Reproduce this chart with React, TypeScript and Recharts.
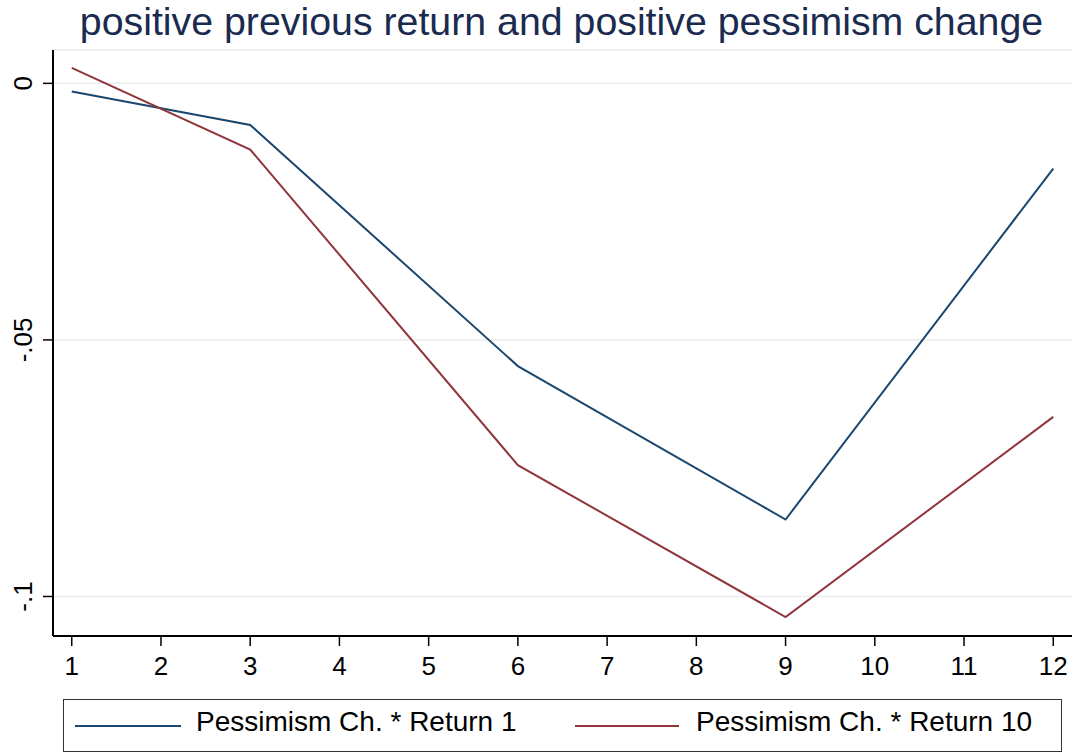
import React from 'react';
import { LineChart, Line, XAxis, YAxis, CartesianGrid } from 'recharts';

const horizons = [1, 3, 6, 9, 12];
const return1 = [-0.0016, -0.0081, -0.0551, -0.085, -0.0166];
const return10 = [0.003, -0.0129, -0.0744, -0.104, -0.065];
const xTicks = [1, 2, 3, 4, 5, 6, 7, 8, 9, 10, 11, 12];
const yTicks = [0, -0.05, -0.1];
const yTickLabels: Record<string, string> = { '0': '0', '-0.05': '-.05', '-0.1': '-.1' };
const seriesNames = ['Pessimism Ch. * Return 1', 'Pessimism Ch. * Return 10'];
const titleText = 'positive previous return and positive pessimism change';

const data = horizons.map((h, i) => ({ h, r1: return1[i], r10: return10[i] }));

const BLUE = '#1a476f';
const RED = '#90353b';
const FONT = '"Liberation Sans", Arial, Helvetica, sans-serif';

const YTick = (props: any) => {
  const { y, payload } = props;
  return (
    <text
      x={0}
      y={0}
      transform={`translate(32, ${y}) rotate(-90)`}
      textAnchor="middle"
      fontSize={26}
      fontFamily={FONT}
      fill="#000"
    >
      {yTickLabels[String(payload.value)] ?? String(payload.value)}
    </text>
  );
};

const XTick = (props: any) => {
  const { x, y, payload } = props;
  return (
    <text x={x} y={y + 26.5} textAnchor="middle" fontSize={26} fontFamily={FONT} fill="#000">
      {payload.value}
    </text>
  );
};

const LegendBox = () => (
  <div
    style={{
      position: 'absolute',
      left: 63,
      top: 699,
      width: 999,
      height: 53,
      border: '1.5px solid #333',
      boxSizing: 'border-box',
      background: '#fff',
      fontFamily: FONT,
      fontSize: 28,
      color: '#000',
    }}
  >
    <div style={{ position: 'absolute', left: 11, top: 25, width: 106, height: 2, background: BLUE }} />
    <div style={{ position: 'absolute', left: 132, top: 6, whiteSpace: 'nowrap' }}>{seriesNames[0]}</div>
    <div style={{ position: 'absolute', left: 511, top: 25, width: 104, height: 2, background: RED }} />
    <div style={{ position: 'absolute', left: 632, top: 6, whiteSpace: 'nowrap' }}>{seriesNames[1]}</div>
  </div>
);

export default function App() {
  return (
    <div style={{ position: 'absolute', left: 0, top: 0, width: 1073, height: 753, background: '#fff' }}>
      <LineChart width={1073} height={753} data={data} margin={{ top: 50, right: 1, bottom: 87, left: 0 }}>
        <CartesianGrid vertical={false} stroke="#ebebeb" strokeWidth={1.5} />
        <XAxis
          dataKey="h"
          type="number"
          domain={[0.79, 12.21]}
          ticks={xTicks}
          allowDataOverflow
          height={30}
          stroke="#000"
          strokeWidth={2}
          tickSize={10}
          tickLine={{ stroke: '#000', strokeWidth: 1.5 }}
          tick={<XTick />}
          interval={0}
        />
        <YAxis
          type="number"
          domain={[-0.1077, 0.0065]}
          ticks={yTicks}
          allowDataOverflow
          width={53}
          stroke="#000"
          strokeWidth={2}
          tickSize={10}
          tickLine={{ stroke: '#000', strokeWidth: 1.5 }}
          tick={<YTick />}
          interval={0}
        />
        <Line dataKey="r1" name={seriesNames[0]} stroke={BLUE} strokeWidth={2} dot={false} isAnimationActive={false} />
        <Line dataKey="r10" name={seriesNames[1]} stroke={RED} strokeWidth={2} dot={false} isAnimationActive={false} />
      </LineChart>
      <div
        style={{
          position: 'absolute',
          left: 0,
          top: -1,
          width: 1073,
          textAlign: 'center',
          fontFamily: FONT,
          fontSize: 39.3,
          color: '#1a2b4f',
          whiteSpace: 'nowrap',
          paddingLeft: 50,
          boxSizing: 'border-box',
        }}
      >
        {titleText}
      </div>
      <LegendBox />
    </div>
  );
}
